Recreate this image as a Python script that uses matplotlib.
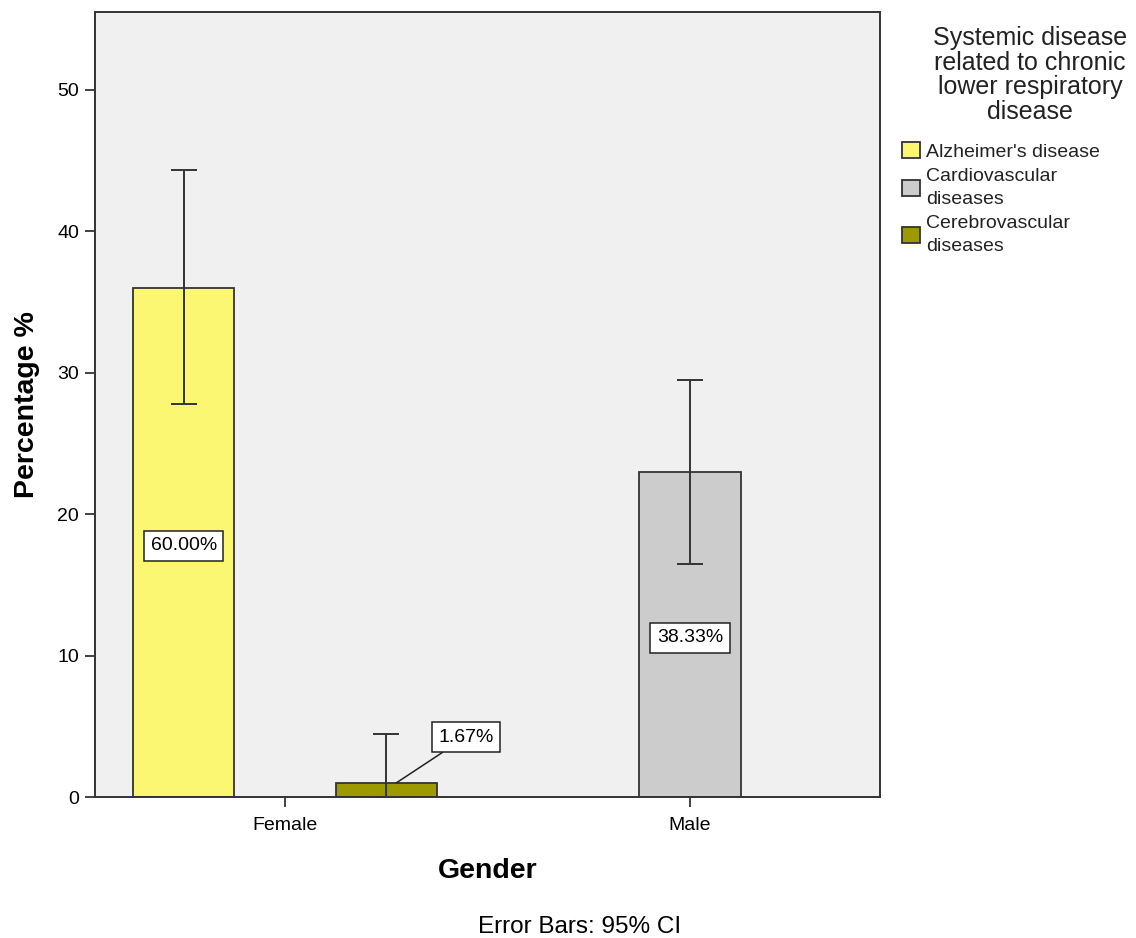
import numpy as np
import matplotlib
matplotlib.use("Agg")
import matplotlib.pyplot as plt
from matplotlib.patches import Patch

plt.rcParams['font.family'] = ['Liberation Sans', 'DejaVu Sans']

# ---- data ----
genders = ["Female", "Male"]
diseases = ["Alzheimer's disease", "Cardiovascular\ndiseases", "Cerebrovascular\ndiseases"]
colors = ["#FBF773", "#CCCCCC", "#9C9A00"]
# mean percentages per disease (rows) for each gender (cols); NaN = no bar
values = [[36.0, np.nan],
          [np.nan, 23.0],
          [1.0, np.nan]]
ci_low = [[27.8, np.nan],
          [np.nan, 16.5],
          [0.0, np.nan]]
ci_high = [[44.3, np.nan],
           [np.nan, 29.5],
           [4.45, np.nan]]
labels = [["60.00%", None],
          [None, "38.33%"],
          ["1.67%", None]]

W, H = 1136, 938
fig = plt.figure(figsize=(W / 100, H / 100), dpi=100)
ax = fig.add_axes([95 / W, 1 - 797 / H, (880 - 95) / W, (797 - 12) / H])
ax.set_facecolor("#F0F0F0")

x = np.arange(len(genders))
width = 0.25
offsets = [-0.25, 0.0, 0.25]
edge = "#333333"

for i, d in enumerate(diseases):
    v = np.array(values[i], dtype=float)
    lo = np.array(ci_low[i], dtype=float)
    hi = np.array(ci_high[i], dtype=float)
    xs = x + offsets[i]
    mask = ~np.isnan(v)
    ax.bar(xs[mask], v[mask], width=width, color=colors[i], edgecolor=edge,
           linewidth=1.3, zorder=2)
    ax.errorbar(xs[mask], v[mask], yerr=[v[mask] - lo[mask], hi[mask] - v[mask]],
                fmt="none", ecolor=edge, elinewidth=1.4, capsize=9.5,
                capthick=1.4, zorder=3)
    for j in range(len(genders)):
        lab = labels[i][j]
        if lab is None:
            continue
        bbox = dict(boxstyle="square,pad=0.33", facecolor="white",
                    edgecolor="#222222", linewidth=1.1)
        if v[j] > 5:
            ax.text(xs[j], v[j] / 2 - 0.25, lab, ha="center", va="center",
                    fontsize=14, bbox=bbox, zorder=4)
        else:
            ax.annotate(lab, xy=(xs[j] + 0.025, v[j]), xytext=(50, 33),
                        textcoords="offset points", ha="center", va="center",
                        fontsize=14, bbox=bbox, zorder=4,
                        arrowprops=dict(arrowstyle="-", color="#222222",
                                        lw=1.1, shrinkA=0, shrinkB=0))

ax.set_xlim(-0.469, 1.469)
ax.set_ylim(0, 55.5)
ax.set_yticks([0, 10, 20, 30, 40, 50])
ax.set_xticks(x)
ax.set_xticklabels(genders)
ax.tick_params(axis="y", length=7, width=1.3, color=edge, labelsize=14, pad=4.5)
ax.tick_params(axis="x", length=7, width=1.3, color=edge, labelsize=14, pad=7.5)
for s in ax.spines.values():
    s.set_color(edge)
    s.set_linewidth(1.4)

ax.set_ylabel("Percentage %", fontsize=20.5, fontweight="bold")
ax.yaxis.set_label_coords(-0.070, 0.5)
ax.set_xlabel("Gender", fontsize=20.5, fontweight="bold")
ax.xaxis.set_label_coords(0.5, -0.078)

fig.text(580 / W, 1 - 927 / H, "Error Bars: 95% CI", ha="center", va="center",
         fontsize=17.5)

# legend
fig.text(1030 / W, 1 - 26 / H,
         "Systemic disease\nrelated to chronic\nlower respiratory\ndisease",
         ha="center", va="top", multialignment="center", fontsize=18,
         linespacing=1.03, color="#222222")
handles = [Patch(facecolor=c, edgecolor=edge, linewidth=1.3) for c in colors]
leg = fig.legend(handles, diseases, loc="upper left",
                 bbox_to_anchor=(902 / W, 1 - 142 / H), frameon=False,
                 fontsize=14, handlelength=0.9, handleheight=0.9,
                 handletextpad=0.35, labelspacing=0.39, borderpad=0,
                 borderaxespad=0)
for t in leg.get_texts():
    t.set_linespacing(1.42)
    t.set_color("#222222")

fig.savefig("out.png", dpi=100)
